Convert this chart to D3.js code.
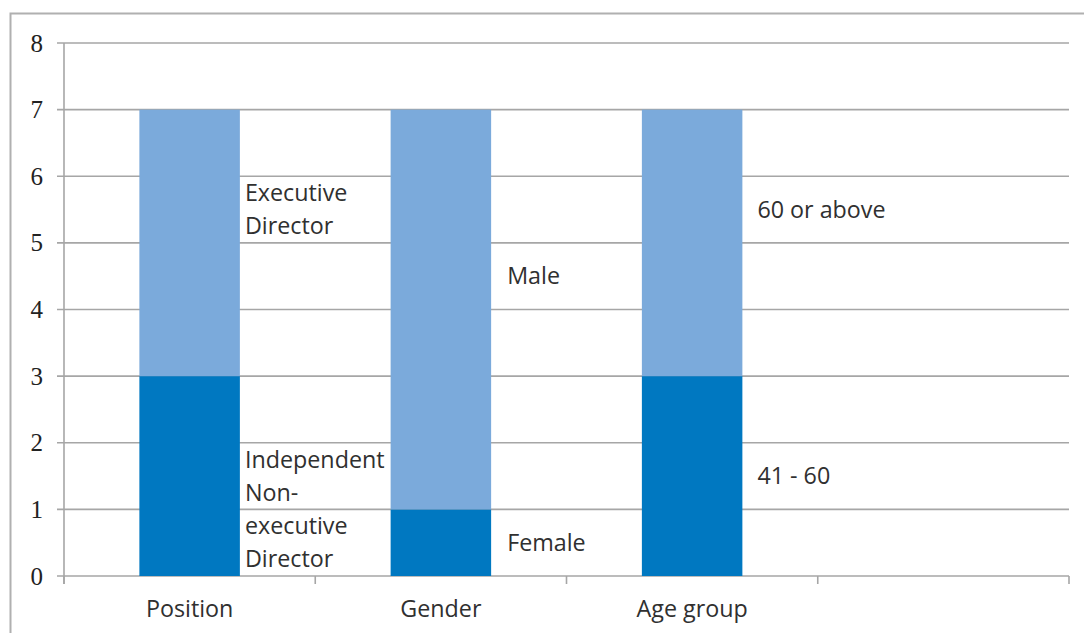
<!DOCTYPE html>
<html>
<head>
<meta charset="utf-8">
<script src="https://cdn.jsdelivr.net/npm/d3@7"></script>
<style>
  html, body { margin: 0; padding: 0; background: #fff; }
  svg { display: block; }
</style>
</head>
<body>
<svg id="chart" width="1084" height="633"></svg>
<script>
// data
const categories = ["Position", "Gender", "Age group", ""]
const lowerValues = [3, 1, 3]
const upperValues = [4, 6, 4]
const lowerLabels = [["Independent", "Non-", "executive", "Director"], ["Female"], ["41 - 60"]]
const upperLabels = [["Executive", "Director"], ["Male"], ["60 or above"]]
const yTicks = [0, 1, 2, 3, 4, 5, 6, 7, 8]

const lightBlue = "#7baadb"
const darkBlue = "#0078c1"
const gridColor = "#a6a6a6"
const textColor = "#303030"
const labelFont = 23.3

const svg = d3.select("#chart")

// outer frame, it runs off the right and bottom of the picture
svg.append("rect")
    .attr("x", 10.5).attr("y", 13.5)
    .attr("width", 1200).attr("height", 800)
    .attr("fill", "none")
    .attr("stroke", "#b0b0b0")
    .attr("stroke-width", 2)

const plotLeft = 64, plotRight = 1069, plotTop = 43, plotBottom = 576

const x = d3.scaleBand().domain(categories).range([plotLeft, plotRight]).paddingInner(0.6).paddingOuter(0.3)
const y = d3.scaleLinear().domain([0, 8]).range([plotBottom, plotTop])

// gridlines
svg.append("g")
    .selectAll("line")
    .data(yTicks)
    .enter().append("line")
    .attr("x1", plotLeft - 7).attr("x2", plotRight)
    .attr("y1", d => y(d)).attr("y2", d => y(d))
    .attr("stroke", gridColor)
    .attr("stroke-width", 1.6)

// y axis line
svg.append("line")
    .attr("x1", plotLeft).attr("x2", plotLeft)
    .attr("y1", plotTop).attr("y2", plotBottom + 8)
    .attr("stroke", gridColor).attr("stroke-width", 1.6)

// category ticks on x axis
const step = (plotRight - plotLeft) / categories.length
svg.append("g")
    .selectAll("line")
    .data(d3.range(categories.length + 1))
    .enter().append("line")
    .attr("x1", i => plotLeft + i * step).attr("x2", i => plotLeft + i * step)
    .attr("y1", plotBottom).attr("y2", plotBottom + 8)
    .attr("stroke", gridColor).attr("stroke-width", 1.6)

// y tick labels (serif like the original)
svg.append("g")
    .selectAll("text")
    .data(yTicks)
    .enter().append("text")
    .attr("x", 43)
    .attr("y", d => y(d))
    .attr("dy", "0.34em")
    .attr("text-anchor", "end")
    .attr("font-family", "Liberation Serif, serif")
    .attr("font-size", 25)
    .attr("fill", "#222")
    .text(d => d)

// category labels
svg.append("g")
    .selectAll("text")
    .data(categories)
    .enter().append("text")
    .attr("x", d => x(d) + x.bandwidth() / 2)
    .attr("y", 609)
    .attr("dy", "0.35em")
    .attr("text-anchor", "middle")
    .attr("font-family", "Open Sans, sans-serif")
    .attr("font-size", labelFont)
    .attr("fill", textColor)
    .text(d => d)

const bars = categories.slice(0, 3).map((c, i) => ({
    cat: c, lower: lowerValues[i], upper: upperValues[i], i: i
}))

// lower segment
svg.append("g")
    .selectAll("rect")
    .data(bars)
    .enter().append("rect")
    .attr("x", d => x(d.cat))
    .attr("width", x.bandwidth())
    .attr("y", d => y(d.lower))
    .attr("height", d => y(0) - y(d.lower))
    .attr("fill", darkBlue)

// upper segment
svg.append("g")
    .selectAll("rect")
    .data(bars)
    .enter().append("rect")
    .attr("x", d => x(d.cat))
    .attr("width", x.bandwidth())
    .attr("y", d => y(d.lower + d.upper))
    .attr("height", d => y(d.lower) - y(d.lower + d.upper))
    .attr("fill", lightBlue)

// series name labels beside the bars
const labelDx = [5, 16, 15]
const lowerShift = [-0.5, 0, 0]
const upperShift = [0.5, 0.5, 0.5]
const lineH = 33

function addLabel(d, lines, centerValue) {
    const cy = y(centerValue)
    const x0 = x(d.cat) + x.bandwidth() + labelDx[d.i]
    const t = svg.append("text")
        .attr("font-family", "Open Sans, sans-serif")
        .attr("font-size", labelFont)
        .attr("fill", textColor)
    lines.forEach((ln, k) => {
        t.append("tspan")
            .attr("x", x0)
            .attr("y", cy + (k - (lines.length - 1) / 2) * lineH)
            .attr("dy", "0.35em")
            .text(ln)
    })
}

bars.forEach(d => {
    addLabel(d, lowerLabels[d.i], d.lower / 2 + lowerShift[d.i])
    addLabel(d, upperLabels[d.i], d.lower + d.upper / 2 + upperShift[d.i])
})
</script>
</body>
</html>
